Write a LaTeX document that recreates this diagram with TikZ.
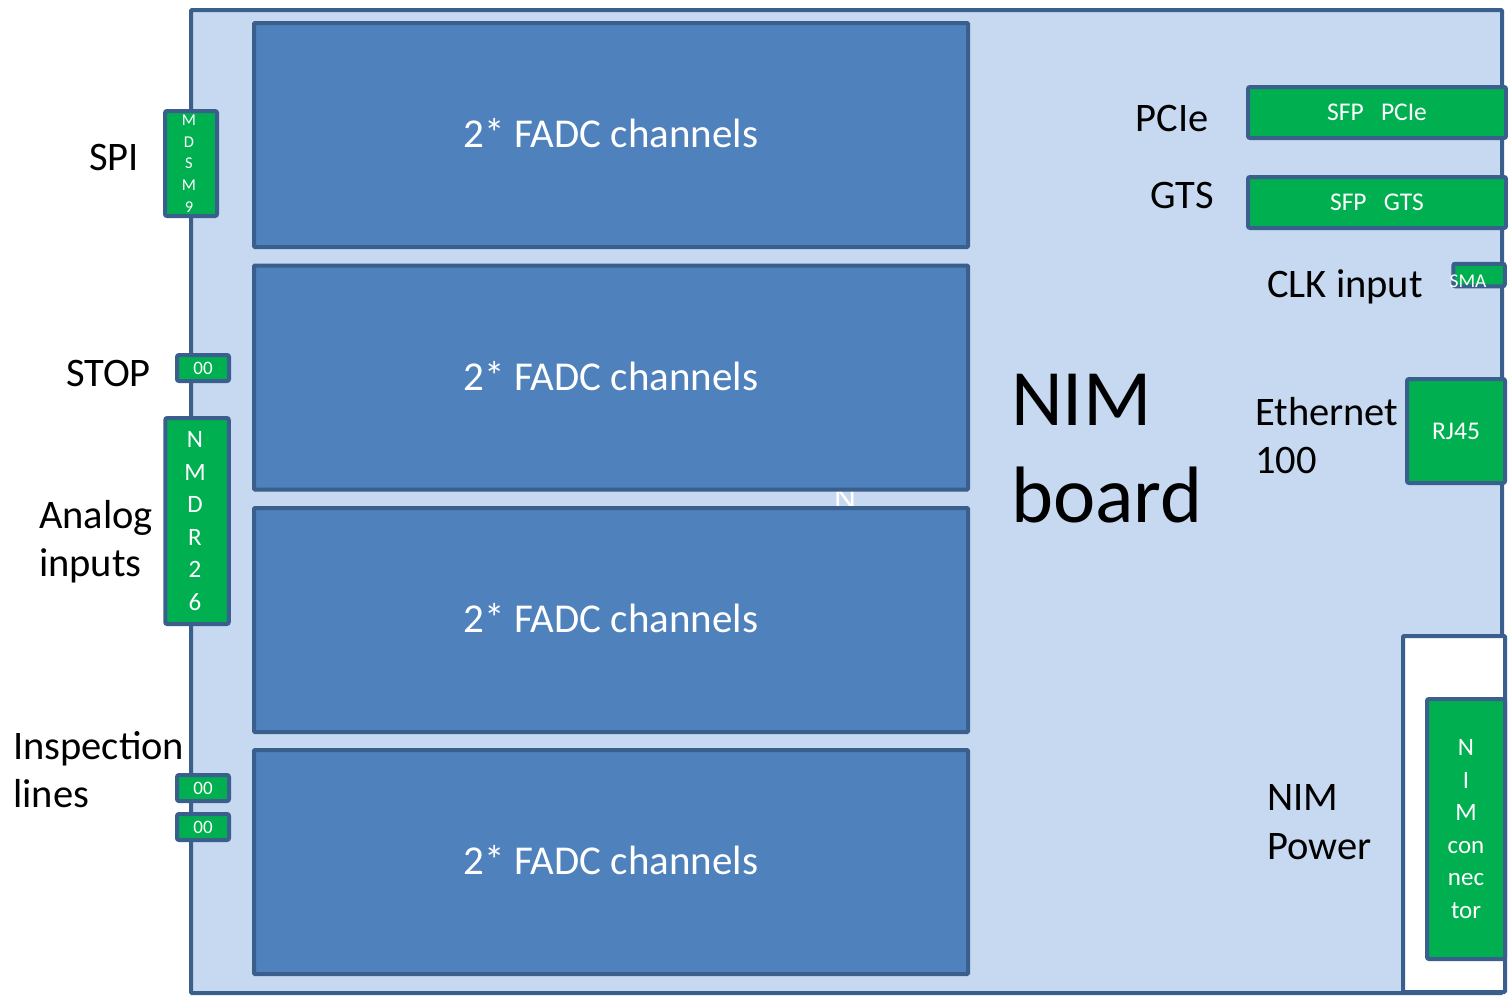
\documentclass[tikz,border=0pt]{standalone}
\usepackage{fontspec}
\setmainfont{Carlito}
\definecolor{boardfill}{HTML}{C6D9F1}
\definecolor{edge}{HTML}{3A5F8C}
\definecolor{fadcfill}{HTML}{4F81BD}
\definecolor{connfill}{HTML}{00B050}
\tikzset{
  boardbox/.style={draw=edge, line width=4pt, fill=boardfill, inner sep=0pt, rounded corners=1pt},
  whitebox/.style={draw=edge, line width=4pt, fill=white, inner sep=0pt, rounded corners=1pt},
  fadcbox/.style={draw=edge, line width=4pt, fill=fadcfill, inner sep=0pt, rounded corners=1pt},
  connbox/.style={draw=edge, line width=4pt, fill=connfill, inner sep=0pt, rounded corners=2pt, text=white, align=center},
  fadctext/.style={text=white, inner sep=0pt, anchor=base, font=\fontsize{41}{48}\selectfont},
  lab/.style={inner sep=0pt, font=\fontsize{40.5}{48}\selectfont},
}
\begin{document}
\begin{tikzpicture}[x=1pt,y=-1pt]
\useasboundingbox (0,0) rectangle (1508,996);
\clip (0,0) rectangle (1508,996);
% board
\node[boardbox, minimum width=1311pt, minimum height=983pt] (board) at (846.5,501.5) {};
\node[whitebox, minimum width=102pt, minimum height=356pt] (pwrarea) at (1454,814) {};
% stray label partly hidden between FADC boxes
\node[text=white, inner sep=0pt, font=\fontsize{34}{40}\selectfont] (stray) at (845,499) {N};
% FADC boxes
\foreach \i/\y in {1/135,2/377.5,3/620,4/862}{
  \node[fadcbox, minimum width=714pt, minimum height=224pt] (fadc\i) at (611,\y) {};
}
\node[fadctext] (ft1) at (611,147) {2* FADC channels};
\node[fadctext] (ft2) at (611,390) {2* FADC channels};
\node[fadctext] (ft3) at (611,632) {2* FADC channels};
\node[fadctext] (ft4) at (611,874) {2* FADC channels};
% left connectors
\node[connbox, minimum width=52pt, minimum height=105pt] (spi) at (191,163.5) {};
\node[text=white, align=center, inner sep=0pt, font=\fontsize{16.5}{21.7}\selectfont] (spitext) at (189,163.5) {M\\D\\S\\M\\9};
\node[connbox, minimum width=52pt, minimum height=26pt, font=\fontsize{19}{20}\selectfont] (stop) at (203,368) {00};
\node[connbox, minimum width=63.5pt, minimum height=206pt] (analog) at (197,521) {};
\node[text=white, align=center, inner sep=0pt, font=\fontsize{25}{32.5}\selectfont] (analogtext) at (195,521) {N\\M\\D\\R\\2\\6};
\node[connbox, minimum width=52pt, minimum height=26pt, font=\fontsize{19}{20}\selectfont] (insp1) at (203,788) {00};
\node[connbox, minimum width=52pt, minimum height=26pt, font=\fontsize{19}{20}\selectfont] (insp2) at (203,827) {00};
% left labels
\node[lab, anchor=base east] (lspi) at (139,170) {SPI};
\node[lab, anchor=base east] (lstop) at (151,386) {STOP};
\node[lab, anchor=base west] (lan1) at (39,528) {Analog};
\node[lab, anchor=base west] (lan2) at (39,576) {inputs};
\node[lab, anchor=base west] (lin1) at (13,759) {Inspection};
\node[lab, anchor=base west] (lin2) at (13,807) {lines};
% right connectors
\node[connbox, minimum width=258pt, minimum height=51pt, font=\fontsize{25.5}{28}\selectfont] (sfp1) at (1377,112.5) {SFP\ \ \ PCIe};
\node[connbox, minimum width=258pt, minimum height=51pt, font=\fontsize{25.5}{28}\selectfont] (sfp2) at (1377,202.5) {SFP\ \ \ GTS};
\node[connbox, minimum width=51.5pt, minimum height=22.5pt] (sma) at (1479,275) {};
\node[text=white, inner sep=0pt, font=\fontsize{19.5}{22}\selectfont] (smatext) at (1468,281) {SMA};
\node[connbox, minimum width=98pt, minimum height=104pt, font=\fontsize{25.5}{28}\selectfont] (rj45) at (1456,431) {RJ45};
\node[connbox, minimum width=78pt, minimum height=260pt, font=\fontsize{25}{32.6}\selectfont] (nimconn) at (1466,829) {N\\I\\M\\con\\nec\\tor};
% right labels
\node[lab, anchor=base east] (lpcie) at (1209,131) {PCIe};
\node[lab, anchor=base east] (lgts) at (1214,208) {GTS};
\node[lab, anchor=base west] (lclk) at (1267,297) {CLK input};
\node[lab, anchor=base west] (leth1) at (1255,425) {Ethernet};
\node[lab, anchor=base west] (leth2) at (1255,473) {100};
\node[lab, anchor=base west] (lpw1) at (1267,810) {NIM};
\node[lab, anchor=base west] (lpw2) at (1267,859) {Power};
% title
\node[inner sep=0pt, anchor=base west, font=\fontsize{80}{97}\selectfont] (t1) at (1011,425) {NIM};
\node[inner sep=0pt, anchor=base west, font=\fontsize{80}{97}\selectfont] (t2) at (1011,522) {board};
\end{tikzpicture}
\end{document}
